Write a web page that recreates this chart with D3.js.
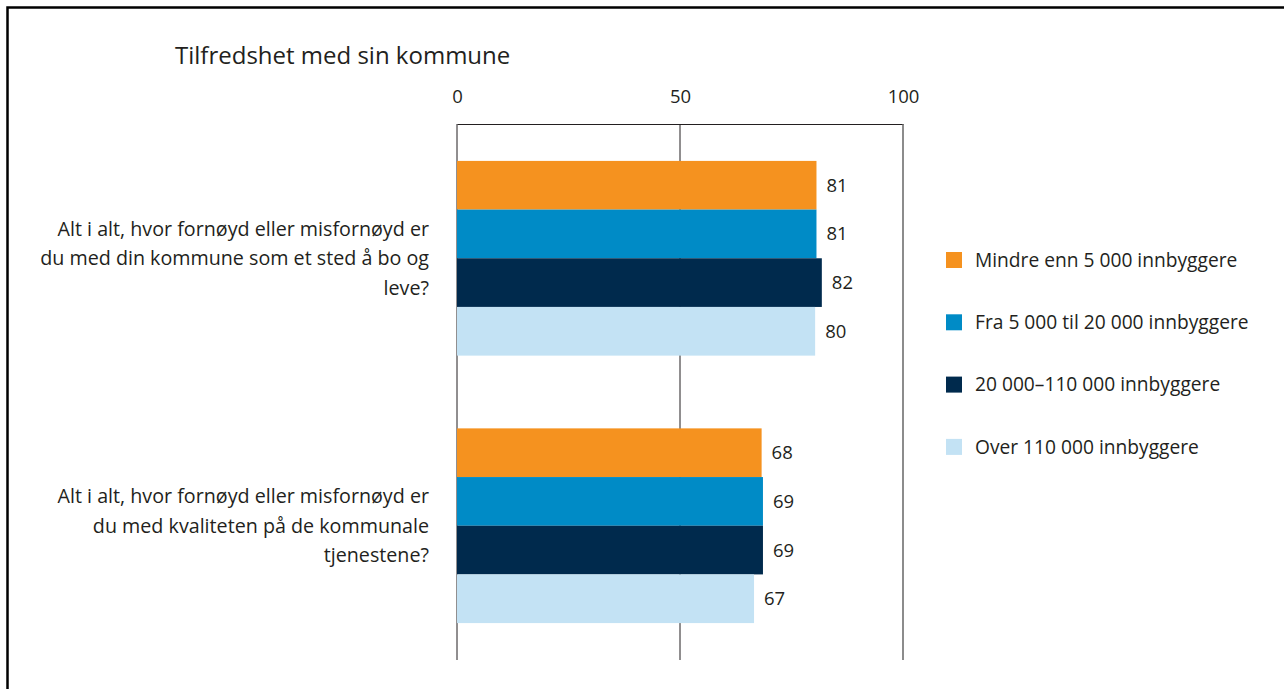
<!DOCTYPE html>
<html>
<head>
<meta charset="utf-8">
<script src="https://cdn.jsdelivr.net/npm/d3@7"></script>
<style>
  body { margin: 0; background: #fff; }
  text { font-family: "Open Sans", "Noto Sans", sans-serif; fill: #231f20; }
</style>
</head>
<body>
<div id="chart"></div>
<script>

const title = "Tilfredshet med sin kommune";

const questions = [
  ["Alt i alt, hvor fornøyd eller misfornøyd er", "du med din kommune som et sted å bo og", "leve?"],
  ["Alt i alt, hvor fornøyd eller misfornøyd er", "du med kvaliteten på de kommunale", "tjenestene?"]
];

const seriesNames = [
  "Mindre enn 5 000 innbyggere",
  "Fra 5 000 til 20 000 innbyggere",
  "20 000–110 000 innbyggere",
  "Over 110 000 innbyggere"
];

const seriesColors = ["#f5921f", "#008bc6", "#002a4d", "#c3e2f4"];

// one row per question, one value per series
const values = [
  [80.6, 80.6, 81.8, 80.3],
  [68.3, 68.6, 68.6, 66.6]
];

const tickValues = [0, 50, 100];

const width = 1284,
  height = 689,
  margin = {top: 124, left: 457, right: 381, bottom: 29};

const svg = d3.select("#chart").append("svg")
    .attr("width", width)
    .attr("height", height);

// frame (only top and left visible)
svg.append("rect")
    .attr("x", 7.5).attr("y", 7.5)
    .attr("width", width + 20).attr("height", height + 20)
    .attr("fill", "none")
    .attr("stroke", "#000")
    .attr("stroke-width", 2.5);

svg.append("text")
    .attr("x", 175)
    .attr("y", 64)
    .style("font-size", "24px")
    .text(title);

const x = d3.scaleLinear()
    .domain([0, 100])
    .range([margin.left, width - margin.right]);

const y = d3.scaleBand()
    .domain(d3.range(questions.length))
    .range([margin.top, height - margin.bottom])
    .paddingInner(0.272)
    .paddingOuter(0.138);

const ySub = d3.scaleBand()
    .domain(d3.range(seriesNames.length))
    .range([0, y.bandwidth()]);

const g = svg.append("g");

// axis on top
const axis = g.append("g")
    .attr("transform", "translate(0," + margin.top + ")")
    .call(d3.axisTop(x).tickValues(tickValues).tickSize(0).tickPadding(21));
axis.select(".domain").attr("stroke", "#231f20").attr("stroke-width", 1);
axis.selectAll("text")
    .style("font-size", "18.5px")
    .attr("fill", "#231f20")
    .attr("font-family", "Open Sans, sans-serif");

// gridlines
g.selectAll(".grid")
  .data(tickValues)
  .enter().append("line")
    .attr("class", "grid")
    .attr("x1", d => x(d)).attr("x2", d => x(d))
    .attr("y1", margin.top).attr("y2", height - margin.bottom)
    .attr("stroke", d => d === 100 ? "#666" : "#231f20")
    .attr("stroke-width", d => d === 100 ? 1.5 : 1);

const groups = g.selectAll(".group")
  .data(values)
  .enter().append("g")
    .attr("class", "group")
    .attr("transform", (d, i) => "translate(0," + y(i) + ")");

groups.selectAll("rect")
  .data(d => d)
  .enter().append("rect")
    .attr("x", x(0))
    .attr("y", (d, i) => ySub(i))
    .attr("width", d => x(d) - x(0))
    .attr("height", ySub.bandwidth())
    .attr("fill", (d, i) => seriesColors[i]);

groups.selectAll(".val")
  .data(d => d)
  .enter().append("text")
    .attr("class", "val")
    .attr("x", d => x(d) + 10)
    .attr("y", (d, i) => ySub(i) + ySub.bandwidth() / 2)
    .attr("dy", "0.35em")
    .style("font-size", "18.5px")
    .text(d => d3.format(".0f")(d));

// question labels
groups.each(function(d, i) {
  const lines = questions[i];
  const lh = 29.5;
  const t = d3.select(this).append("text")
      .attr("text-anchor", "end")
      .style("font-size", "19.7px");
  t.selectAll("tspan")
    .data(lines)
    .enter().append("tspan")
      .attr("x", 429)
      .attr("y", (l, j) => y.bandwidth() / 2 + (j - (lines.length - 1) / 2) * lh)
      .attr("dy", "0.35em")
      .text(l => l);
});

// legend
const legend = svg.append("g")
  .selectAll("g")
  .data(seriesNames)
  .enter().append("g")
    .attr("transform", (d, i) => "translate(946," + (260 + i * 62.3) + ")");

legend.append("rect")
    .attr("x", 0).attr("y", -8)
    .attr("width", 16).attr("height", 16)
    .attr("fill", (d, i) => seriesColors[i]);

legend.append("text")
    .attr("x", 29)
    .attr("dy", "0.35em")
    .style("font-size", "19.2px")
    .text(d => d);

</script>
</body>
</html>
